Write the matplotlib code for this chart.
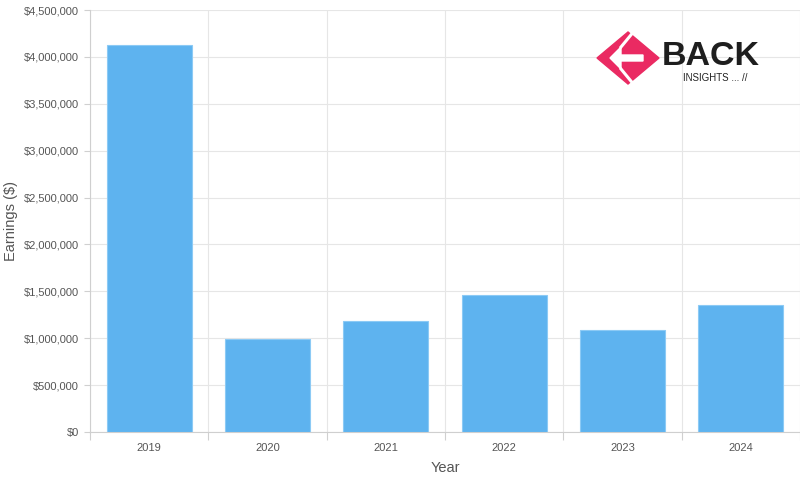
import matplotlib.pyplot as plt
import matplotlib.patches as mpatches
from matplotlib.ticker import FuncFormatter, MultipleLocator
import numpy as np

# Data
years = ['2019', '2020', '2021', '2022', '2023', '2024']
earnings = [4130000, 990000, 1180000, 1465000, 1085000, 1350000]

plt.rcParams['font.family'] = ['Liberation Sans', 'DejaVu Sans']

fig = plt.figure(figsize=(8, 4.8), dpi=100)
ax = fig.add_axes([90 / 800, 1 - 432 / 480, 710 / 800, 422 / 480])

x = np.arange(len(years))
ax.bar(x, earnings, width=0.72, color='#5eb3ef', edgecolor='#8ccaf5',
       linewidth=0.8, zorder=3)

ax.set_xlim(-0.5, len(years) - 0.5)
ax.set_ylim(0, 4500000)
ax.yaxis.set_major_locator(MultipleLocator(500000))
ax.yaxis.set_major_formatter(FuncFormatter(lambda v, p: '${:,.0f}'.format(v)))

ax.set_xticks(x)
ax.set_xticklabels(years)
ax.set_xticks(np.arange(len(years) + 1) - 0.5, minor=True)

ax.tick_params(axis='x', which='major', length=0, pad=8, labelsize=8, labelcolor='#555555')
ax.tick_params(axis='x', which='minor', length=6, color='#d0d0d0', width=0.8)
ax.tick_params(axis='y', length=4, color='#d0d0d0', width=0.8, pad=4,
               labelsize=8, labelcolor='#555555')

ax.grid(axis='y', which='major', color='#e6e6e6', linewidth=0.8, zorder=0)
ax.grid(axis='x', which='minor', color='#e6e6e6', linewidth=0.8, zorder=0)

for side in ['top', 'right']:
    ax.spines[side].set_visible(False)
ax.spines['left'].set_color('#cfcfcf')
ax.spines['bottom'].set_color('#cfcfcf')

ax.set_xlabel('Year', fontsize=10.5, color='#555555', labelpad=6)
ax.set_ylabel('Earnings ($)', fontsize=10.5, color='#555555', labelpad=4)


# logo in the top right corner, pixel coords converted to figure fraction
def px(pts):
    return [(a / 800, 1 - b / 480) for a, b in pts]


pink = '#ea2a62'
fig.patches.append(mpatches.Polygon(px([(628, 32), (597, 58), (628, 84), (659, 58)]),
                                    closed=True, color=pink, transform=fig.transFigure))
fig.patches.append(mpatches.Polygon(px([(610, 58), (621, 47), (621, 55), (643, 55),
                                        (643, 61), (621, 61), (621, 69)]),
                                    closed=True, color='white', transform=fig.transFigure))
for seg in [[(635, 30), (621, 47)], [(635, 86), (621, 69)]]:
    pts = px(seg)
    fig.add_artist(plt.Line2D([pts[0][0], pts[1][0]], [pts[0][1], pts[1][1]],
                              color='white', linewidth=2.2, transform=fig.transFigure))

fig.text(662 / 800, 1 - 65 / 480, 'BACK', fontsize=24.5, fontweight='heavy',
         color='#1e1e1e', ha='left', va='baseline')
fig.text(683 / 800, 1 - 81 / 480, 'INSIGHTS ... //', fontsize=7,
         color='#222222', ha='left', va='baseline')

plt.savefig('out.png', dpi=100)
